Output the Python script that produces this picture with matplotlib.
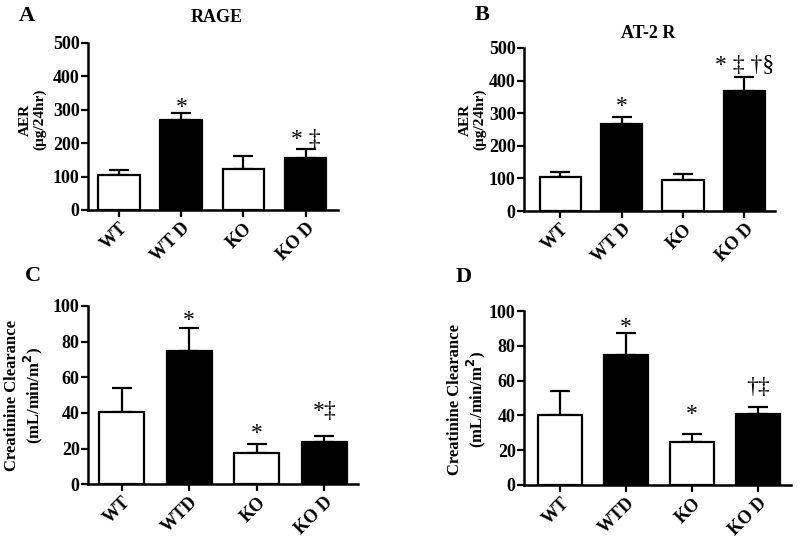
import matplotlib
matplotlib.use("Agg")
import matplotlib.pyplot as plt

plt.rcParams["font.family"] = ["Liberation Serif", "DejaVu Serif"]
plt.rcParams["font.weight"] = "bold"

groups_ab = ["WT", "WT D", "KO", "KO D"]
groups_cd = ["WT", "WTD", "KO", "KO D"]
fills = ["white", "black", "white", "black"]

rage_mean = [105, 268, 122, 155]
rage_err = [15, 21, 39, 29]
rage_marks = ["", "*", "", "* \u2021"]

at2_mean = [103, 267, 95, 368]
at2_err = [16, 22, 20, 43]
at2_marks = ["", "*", "", "* \u2021 \u2020\u00a7"]

crcl_c_mean = [40.3, 74.9, 17.6, 23.4]
crcl_c_err = [13.4, 12.6, 5.2, 3.9]
crcl_c_marks = ["", "*", "*", "*\u2021"]

crcl_d_mean = [40.2, 75.0, 24.5, 40.7]
crcl_d_err = [13.7, 12.2, 5.1, 4.0]
crcl_d_marks = ["", "*", "*", "\u2020\u2021"]


def bar_panel(ax, labels, mean, err, marks, mark_pad, ymax, ystep, ylabel, ylabel_size, xlim, lab_xy):
    x = list(range(len(labels)))
    ax.bar(x, mean, width=0.67, color=fills, edgecolor="black", linewidth=1.6, zorder=2)
    ax.errorbar(x, mean, yerr=[[0] * len(err), err], fmt="none", ecolor="black",
                elinewidth=1.6, capsize=7.5, capthick=1.6, zorder=1)
    for xi, m, e, t, p in zip(x, mean, err, marks, mark_pad):
        if t:
            ax.annotate(t, (xi, m + e), xytext=(0, p), textcoords="offset points",
                        ha="center", va="bottom", fontsize=17, fontweight="normal")
    ax.set_xlim(*xlim)
    ax.set_ylim(0, ymax)
    ax.set_yticks(range(0, ymax + 1, ystep))
    ax.set_xticks(x)
    ax.set_xticklabels(labels, rotation=45, ha="right", rotation_mode="anchor")
    for side in ("top", "right"):
        ax.spines[side].set_visible(False)
    for side in ("left", "bottom"):
        ax.spines[side].set_linewidth(1.8)
    ax.tick_params(width=1.6, length=5, labelsize=13, direction="out")
    ax.tick_params(axis="y", pad=1)
    ax.tick_params(axis="x", pad=2)
    ax.set_ylabel(ylabel, fontsize=ylabel_size, fontweight="bold", linespacing=1.1)
    ax.yaxis.set_label_coords(*lab_xy)


fig = plt.figure(figsize=(8, 5.44), dpi=100)

ax_a = fig.add_axes([0.11, 0.614, 0.3125, 0.307])
bar_panel(ax_a, groups_ab, rage_mean, rage_err, rage_marks, [0, -3, 0, -1], 500, 100,
          "AER\n(\u00b5g/24hr)", 11, (-0.5, 3.52), (-0.165, 0.54))

ax_b = fig.add_axes([0.655, 0.612, 0.314, 0.300])
bar_panel(ax_b, groups_ab, at2_mean, at2_err, at2_marks, [0, 0, 0, 1], 500, 100,
          "AER\n(\u00b5g/24hr)", 11, (-0.59, 3.5), (-0.148, 0.56))

ax_c = fig.add_axes([0.11, 0.110, 0.3375, 0.3275])
bar_panel(ax_c, groups_cd, crcl_c_mean, crcl_c_err, crcl_c_marks, [0, -2, 0, 10], 100, 20,
          "Creatinine Clearance\n(mL/min/m$^{\\mathbf{2}}$)", 12, (-0.5, 3.5), (-0.16, 0.5))

ax_d = fig.add_axes([0.655, 0.1085, 0.334, 0.3195])
bar_panel(ax_d, groups_cd, crcl_d_mean, crcl_d_err, crcl_d_marks, [0, -3, 6, 7], 100, 20,
          "Creatinine Clearance\n(mL/min/m$^{\\mathbf{2}}$)", 12, (-0.55, 3.5), (-0.135, 0.49))

fig.text(217 / 800, 1 - 18 / 544, "RAGE", fontsize=13, fontweight="bold", ha="center", va="center")
fig.text(648 / 800, 1 - 33 / 544, "AT-2 R", fontsize=13, fontweight="bold", ha="center", va="center")

for letter, (fx, fy) in zip("ABCD", [(27, 16), (482, 15), (33, 276), (464, 277)]):
    fig.text(fx / 800, 1 - fy / 544, letter, fontsize=16, fontweight="bold",
             ha="center", va="center")

fig.savefig("out.png", dpi=100)
